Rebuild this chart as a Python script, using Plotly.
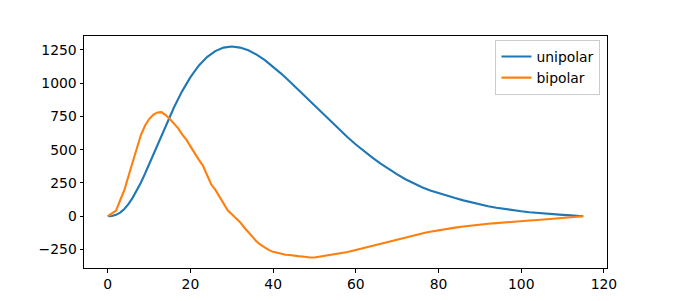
import plotly.graph_objects as go

uni_x = list(range(0, 16)) + [16, 18, 20, 22, 24, 26, 28, 30, 32, 34, 36, 38, 40,
         42, 44, 46, 48, 50, 52, 54, 56, 58, 60, 62, 64, 66, 68, 70, 72, 74, 76, 78, 80,
         82, 84, 86, 88, 90, 92, 94, 96, 98, 100, 102, 104, 106, 108, 110, 112, 114, 115]
uni_y = [0, 2, 10, 27, 54, 91, 138, 192, 252, 319, 389, 461, 534, 608, 680, 750,
         817, 940, 1045, 1131, 1196, 1241, 1267, 1275,
         1267, 1247, 1214, 1173, 1125, 1070, 1012, 952, 891, 830, 769, 709, 650, 593, 539,
         488, 440, 395, 353, 314, 278, 246, 218, 194, 173, 154, 136, 119, 103, 88, 75, 64,
         54, 45, 37, 30, 24, 19, 14, 10, 6, 2, 0]

bi_x = list(range(0, 80)) + [80, 82, 84, 86, 88, 90, 92, 94, 96, 98, 100, 102, 104, 106,
                             108, 110, 112, 114, 115]
bi_y = [0, 20, 42, 120, 195, 300, 405, 510, 610, 680, 730, 762, 780, 782, 760, 730, 695,
        662, 615, 575, 525, 470, 425, 380, 305, 240, 200, 150, 95, 45, 15, -15, -45, -85,
        -120, -160, -190, -215, -235, -255, -268, -275, -287, -290, -292, -298, -300, -303,
        -308, -310, -310, -305, -302, -298, -292, -287, -282, -276, -269, -261, -253, -245,
        -237, -229, -222, -215, -208, -200, -192, -185, -178, -170, -162, -154, -146, -138,
        -130, -123, -117, -111,
        -105, -97, -86, -78, -70, -62, -57, -52, -46, -41, -36, -32, -28, -23, -18, -12, -8,
        -3, 0]

x_ticks = [0, 20, 40, 60, 80, 100, 120]
y_ticks = [-250, 0, 250, 500, 750, 1000, 1250]
y_tick_text = ["\u2212250", "0", "250", "500", "750", "1000", "1250"]

fig = go.Figure()
fig.add_trace(go.Scatter(x=uni_x, y=uni_y, mode="lines", name="unipolar",
                         line=dict(color="#1f77b4", width=2.1)))
fig.add_trace(go.Scatter(x=bi_x, y=bi_y, mode="lines", name="bipolar",
                         line=dict(color="#ff7f0e", width=2.1)))

font = dict(family="DejaVu Sans", size=13.9, color="black")
axis_common = dict(showgrid=False, zeroline=False, automargin=False,
                   showline=True, linecolor="black", linewidth=1, mirror=True,
                   ticks="outside", ticklen=3.5, tickwidth=1, tickcolor="black",
                   tickfont=font)
fig.update_layout(
    template="none",
    width=675, height=301,
    margin=dict(l=84, r=67.5, t=36, b=33, pad=0),
    paper_bgcolor="white", plot_bgcolor="white",
    font=font,
    showlegend=True,
    legend=dict(x=0.9875, y=0.9828, xanchor="right", yanchor="top",
                bgcolor="rgba(255,255,255,0.8)", bordercolor="#cccccc", borderwidth=1,
                font=font, tracegroupgap=0),
    xaxis=dict(range=[-5.75, 120.75], tickvals=x_ticks, **axis_common),
    yaxis=dict(range=[-389.25, 1354.25], tickvals=y_ticks, ticktext=y_tick_text,
               **axis_common),
)

fig.write_html("out.html")
